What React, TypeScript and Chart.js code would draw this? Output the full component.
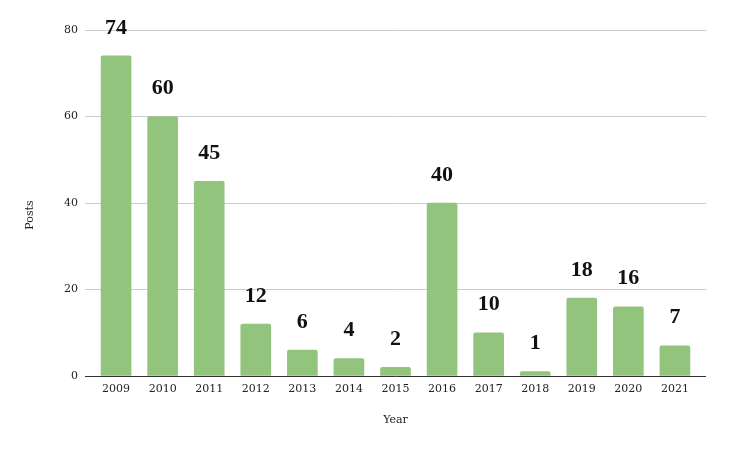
import React, { useEffect, useRef } from "react";
import { Chart, registerables } from "chart.js";

Chart.register(...registerables);

const years = ["2009", "2010", "2011", "2012", "2013", "2014", "2015", "2016", "2017", "2018", "2019", "2020", "2021"];
const posts = [74, 60, 45, 12, 6, 4, 2, 40, 10, 1, 18, 16, 7];
const yTicks = [0, 20, 40, 60, 80];

const FONT = "'Liberation Serif', 'DejaVu Serif', serif";
const TICK_FONT = "'DejaVu Serif', serif";

export default function App() {
  const ref = useRef<HTMLCanvasElement | null>(null);
  useEffect(() => {
    document.body.style.margin = "0";
    const canvas = ref.current!;
    const labelPlugin = {
      id: "valueLabels",
      afterDatasetsDraw(chart: any) {
        const ctx = chart.ctx;
        const meta = chart.getDatasetMeta(0);
        ctx.save();
        ctx.font = `bold 22px ${FONT}`;
        ctx.fillStyle = "#111";
        ctx.textAlign = "center";
        ctx.textBaseline = "middle";
        meta.data.forEach((el: any, i: number) => {
          ctx.fillText(String(posts[i]), el.x, el.y - 28);
        });
        // axis titles
        const ca = chart.chartArea;
        ctx.font = `11px ${TICK_FONT}`;
        ctx.fillStyle = "#222";
        ctx.fillText("Year", (ca.left + ca.right) / 2, 420);
        ctx.translate(30, (ca.top + ca.bottom) / 2 + 12);
        ctx.rotate(-Math.PI / 2);
        ctx.fillText("Posts", 0, 0);
        ctx.restore();
      },
    };
    const chart = new Chart(canvas, {
      type: "bar",
      data: {
        datasets: [
          {
            data: posts.map((v, i) => ({ x: i, y: v })),
            backgroundColor: "#93c47d",
            borderRadius: 2,
            borderSkipped: "bottom",
            barThickness: 30,
          },
        ],
      },
      options: {
        responsive: false,
        animation: false,
        layout: { padding: { top: 30, right: 23, left: 0, bottom: 0 } },
        plugins: { legend: { display: false }, tooltip: { enabled: false } },
        scales: {
          x: {
            type: "linear",
            min: -0.667,
            max: 12.667,
            offset: false,
            grid: { display: false, drawTicks: false },
            border: { display: false },
            afterBuildTicks: (scale: any) => {
              scale.ticks = years.map((_, i) => ({ value: i }));
            },
            afterFit: (scale: any) => {
              scale.height = 75;
            },
            ticks: {
              padding: 7,
              autoSkip: false,
              maxRotation: 0,
              color: "#222",
              font: { family: TICK_FONT, size: 11 },
              callback: (v: any) => years[Math.round(Number(v))] ?? "",
            },
          },
          y: {
            min: 0,
            max: 80,
            afterBuildTicks: (scale: any) => {
              scale.ticks = yTicks.map((v) => ({ value: v }));
            },
            afterFit: (scale: any) => {
              scale.width = 85;
            },
            grid: {
              drawTicks: false,
              color: (c: any) => (c.tick && c.tick.value === 0 ? "#333" : "#cccccc"),
              lineWidth: 1,
            },
            border: { display: false },
            ticks: {
              padding: 7,
              color: "#222",
              font: { family: TICK_FONT, size: 11 },
            },
          },
        },
      },
      plugins: [labelPlugin],
    } as any);
    return () => chart.destroy();
  }, []);
  return <canvas ref={ref} width={729} height={451} style={{ display: "block" }} />;
}
